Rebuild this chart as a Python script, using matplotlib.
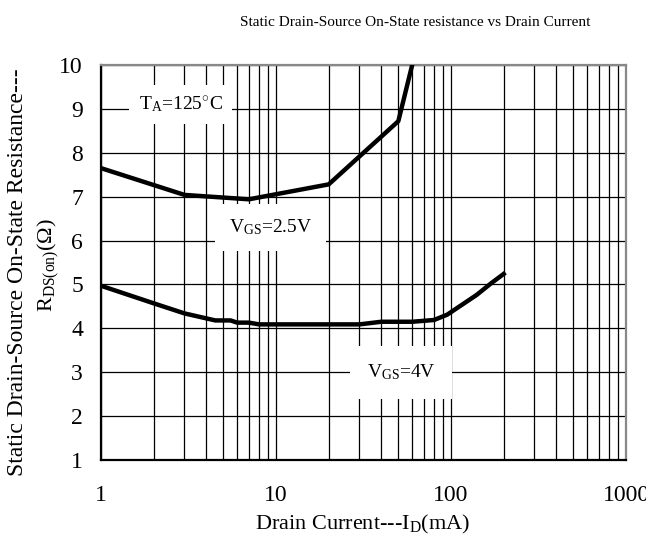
import matplotlib
matplotlib.use("Agg")
import matplotlib.pyplot as plt
from matplotlib.ticker import FixedLocator, NullFormatter, FixedFormatter

plt.rcParams['font.family'] = ['Liberation Serif', 'DejaVu Serif']
plt.rcParams['mathtext.fontset'] = 'custom'
plt.rcParams['mathtext.rm'] = 'Liberation Serif'
plt.rcParams['mathtext.it'] = 'Liberation Serif:italic'

# Data
id_25 = [1, 3, 7, 20, 50, 60]
r_25 = [7.65, 7.04, 6.94, 7.28, 8.72, 10.0]

id_4 = [1, 2, 3, 4.5, 5.5, 6, 7, 8, 30, 40, 60, 80, 95, 140, 170, 200]
r_4 = [4.97, 4.57, 4.34, 4.18, 4.18, 4.13, 4.13, 4.09, 4.09, 4.15, 4.15, 4.19, 4.31, 4.76, 5.03, 5.24]

x_ticks = [1, 10, 100, 1000]
x_labels = ["1", "10", "100", "1000"]
y_ticks = [1, 2, 3, 4, 5, 6, 7, 8, 9, 10]

fig = plt.figure(figsize=(6.46, 5.39), dpi=100)
ax = fig.add_axes([101/646, 1-460/539, (626-101)/646, (460-65)/539])

ax.set_xscale('log')
ax.set_xlim(1, 1000)
ax.set_ylim(1, 10)

minor = [m * d for d in (1, 10, 100) for m in range(2, 10)]
ax.xaxis.set_major_locator(FixedLocator(x_ticks))
ax.xaxis.set_major_formatter(FixedFormatter(x_labels))
ax.xaxis.set_minor_locator(FixedLocator(minor))
ax.xaxis.set_minor_formatter(NullFormatter())
ax.set_yticks(y_ticks)
ax.set_yticklabels([str(v) for v in y_ticks])

ax.grid(True, which='both', axis='x', color='black', lw=0.9, zorder=1)
ax.grid(True, which='major', axis='y', color='black', lw=0.9, zorder=1)
ax.tick_params(which='both', length=0)
ax.tick_params(axis='x', pad=18, labelsize=17)
ax.tick_params(axis='y', pad=13, labelsize=17)

for s in ('left', 'bottom'):
    ax.spines[s].set_color('black')
    ax.spines[s].set_linewidth(1.6)
for s in ('top', 'right'):
    ax.spines[s].set_color('#888888')
    ax.spines[s].set_linewidth(1.6)

ax.plot(id_25, r_25, color='black', lw=3.2, zorder=5)
ax.plot(id_4, r_4, color='black', lw=3.2, zorder=5)

ax.text(2.85, 9.1, r"T$_{\mathrm{A}}$=125$^{\circ}$C", fontsize=14, ha='center', va='center',
        bbox=dict(facecolor='white', edgecolor='none', pad=7), zorder=4)
ax.text(9.3, 6.3, r"V$_{\mathrm{GS}}$=2.5V", fontsize=14, ha='center', va='center',
        bbox=dict(facecolor='white', edgecolor='none', pad=10), zorder=4)
ax.text(52, 3.0, r"V$_{\mathrm{GS}}$=4V", fontsize=14, ha='center', va='center',
        bbox=dict(facecolor='white', edgecolor='none', pad=12), zorder=4)

fig.text(415/646, 1-22/539, "Static Drain-Source On-State resistance vs Drain Current",
         fontsize=11, ha='center', va='center')
fig.text(363/646, 1-524/539, r"Drain Current---I$_{\mathrm{D}}$(mA)", fontsize=16,
         ha='center', va='center')
fig.text(18/646, 1-272/539, "Static Drain-Source On-State Resistance---", fontsize=17,
         ha='center', va='center', rotation=90)
fig.text(48/646, 1-265/539, r"R$_{\mathrm{DS(on)}}$($\Omega$)", fontsize=16,
         ha='center', va='center', rotation=90)

fig.savefig("out.png", dpi=100)
